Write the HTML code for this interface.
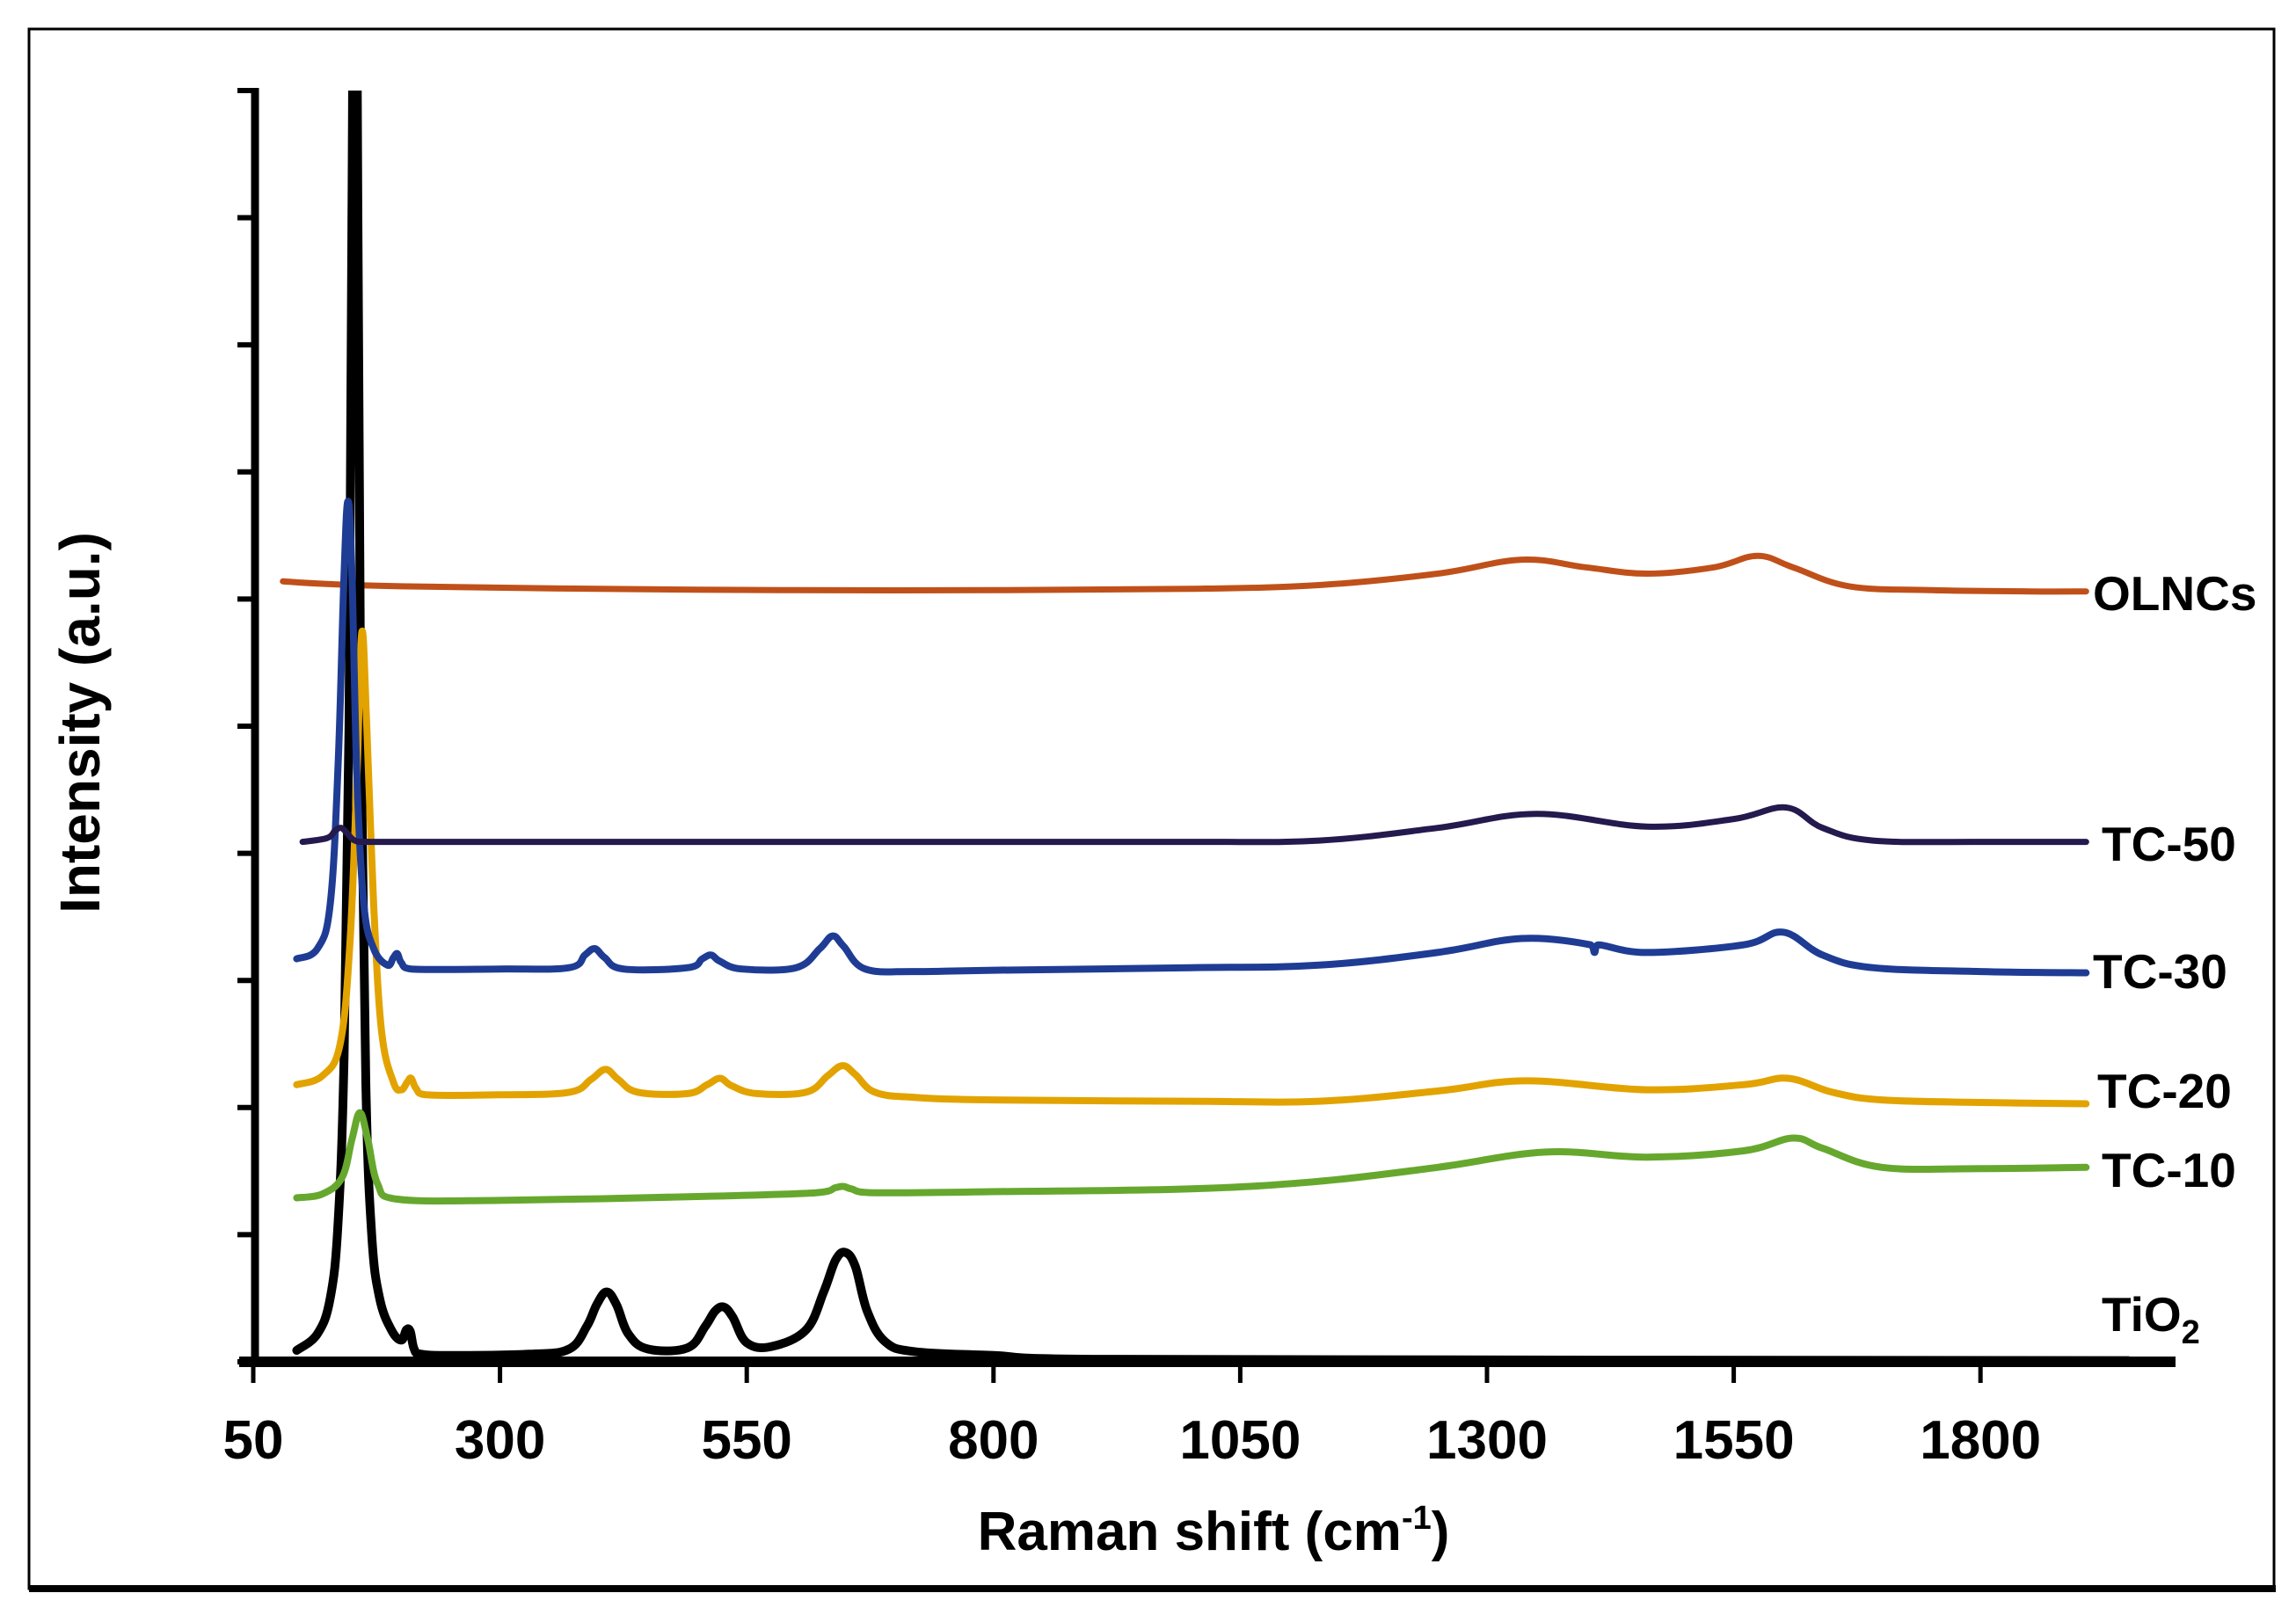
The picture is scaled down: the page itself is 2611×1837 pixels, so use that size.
<!DOCTYPE html>
<html><head><meta charset="utf-8"><style>
html,body{margin:0;padding:0;background:#fff;}
svg{display:block;}
text{font-family:"Liberation Sans",Arial,sans-serif;font-weight:bold;fill:#000;}
</style></head><body>
<svg id="chart" width="2611" height="1837" viewBox="0 0 2611 1837">
<rect x="33" y="33" width="2553" height="1774" fill="#fff" stroke="#000" stroke-width="3"/>
<line x1="33" y1="1807" x2="2588" y2="1807" stroke="#000" stroke-width="8"/>
<defs><clipPath id="plotclip"><rect x="290" y="103" width="2200" height="1446"/></clipPath></defs>
<g id="series" clip-path="url(#plotclip)"></g>
<g id="axes"></g>
<text x="1380" y="1763" font-size="62" text-anchor="middle">Raman shift (cm<tspan dy="-24" font-size="38">-1</tspan><tspan dy="24">)</tspan></text>
<text transform="translate(113,822) rotate(-90)" font-size="64" text-anchor="middle">Intensity (a.u.)</text>
<g id="labels"></g>
</svg>
<script>
// x-axis ticks
const xTicks = [50, 300, 550, 800, 1050, 1300, 1550, 1800];
const yTickCount = 10;
// series data (x: Raman shift cm-1, y: intensity a.u.)
const tio2X = [94,115,128,136,142,147,150,153,156,159,164,170,178,190,200,205,209,213,220,250,330,370,388,398,408,418,430,450,490,508,518,527,536,550,575,610,628,640,650,660,672,690,720,800,900,1950];
const tio2Y = [0.09,0.22,0.5,1.1,2.4,5,9,13,9,5,2.2,1.0,0.5,0.25,0.17,0.25,0.24,0.1,0.06,0.05,0.06,0.1,0.28,0.45,0.55,0.45,0.22,0.1,0.11,0.28,0.4,0.43,0.35,0.15,0.12,0.25,0.55,0.8,0.86,0.75,0.4,0.16,0.08,0.05,0.02,0.01];
const tc10X = [94,120,140,150,158,166,176,195,300,500,620,640,648,656,680,820,1000,1130,1250,1360,1462,1560,1610,1640,1700,1800,1907];
const tc10Y = [1.29,1.32,1.45,1.75,1.96,1.75,1.4,1.28,1.27,1.3,1.33,1.37,1.38,1.36,1.33,1.34,1.36,1.42,1.53,1.65,1.61,1.66,1.76,1.68,1.53,1.52,1.53];
const tc20X = [94,120,138,148,155,160,165,172,180,192,200,206,210,215,225,300,370,392,407,420,440,490,510,523,535,560,610,632,647,660,680,720,800,1000,1130,1250,1340,1462,1560,1605,1650,1700,1800,1907];
const tc20Y = [2.18,2.25,2.5,3.3,4.6,5.74,5.0,3.6,2.6,2.2,2.14,2.2,2.23,2.15,2.1,2.1,2.12,2.22,2.3,2.22,2.12,2.11,2.18,2.23,2.17,2.11,2.12,2.25,2.33,2.26,2.12,2.08,2.06,2.05,2.05,2.13,2.21,2.14,2.18,2.23,2.12,2.06,2.04,2.03];
const tc30X = [94,115,128,136,142,146,150,155,162,172,186,192,196,200,210,300,370,386,396,406,425,490,505,514,523,545,600,624,637,648,670,720,800,1000,1130,1250,1335,1405,1409,1413,1462,1560,1600,1640,1691,1800,1907];
const tc30Y = [3.17,3.25,3.6,4.7,6.2,6.77,6.2,4.6,3.6,3.25,3.12,3.18,3.21,3.14,3.09,3.09,3.1,3.2,3.25,3.18,3.09,3.1,3.17,3.2,3.15,3.09,3.1,3.25,3.35,3.27,3.09,3.07,3.08,3.1,3.12,3.22,3.33,3.28,3.22,3.28,3.22,3.28,3.38,3.2,3.1,3.07,3.06];
const tc50X = [100,125,133,139,145,153,170,400,800,1000,1130,1250,1350,1462,1550,1603,1640,1691,1800,1907];
const tc50Y = [4.09,4.12,4.18,4.2,4.16,4.1,4.09,4.09,4.09,4.09,4.1,4.2,4.31,4.21,4.27,4.36,4.2,4.1,4.09,4.09];
const olncX = [80,120,200,400,600,800,1000,1130,1250,1335,1400,1462,1530,1574,1610,1667,1750,1850,1907];
const olncY = [6.14,6.12,6.1,6.08,6.07,6.07,6.08,6.11,6.2,6.31,6.25,6.2,6.25,6.34,6.25,6.1,6.07,6.06,6.06];
const seriesNames = ['tio2','tc-10','tc-20','tc-30','tc-50','olncs'];
const seriesLabels = ['TiO2','TC-10','TC-20','TC-30','TC-50','OLNCs'];

const NS = 'http://www.w3.org/2000/svg';
const X0 = 288, XPER = 280.6/250, Y0 = 1549, YPER = 144.6;
function xs(d){ return X0 + (d-50)*XPER; }
function ys(v){ return Y0 - v*YPER; }

const axes = document.getElementById('axes');
function line(x1,y1,x2,y2,w,name){
  const l = document.createElementNS(NS,'line');
  l.setAttribute('x1',x1);l.setAttribute('y1',y1);l.setAttribute('x2',x2);l.setAttribute('y2',y2);
  l.setAttribute('stroke','#000');l.setAttribute('stroke-width',w);
  
  
  axes.appendChild(l);
}
line(290,100,290,1555,9,'y-axis-line');
line(272,1549,2474,1549,12,'x-axis-line');
for(let i=0;i<=yTickCount;i++){
  const y = ys(i);
  line(270,y,292,y,6,'y-tick');
}
xTicks.forEach(t=>{
  const x = xs(t);
  line(x,1549,x,1573,5,'x-tick');
  const tx = document.createElementNS(NS,'text');
  tx.setAttribute('x',x);tx.setAttribute('y',1659);
  tx.setAttribute('font-size','62');tx.setAttribute('text-anchor','middle');
  
  
  tx.textContent = t;
  axes.appendChild(tx);
});

const sg = document.getElementById('series');
function draw(X,Y,color,w,name){
  const P = X.map((x,i)=>[xs(x),ys(Y[i])]);
  let d = 'M'+P[0][0].toFixed(1)+','+P[0][1].toFixed(1);
  for(let i=0;i<P.length-1;i++){
    const p0=P[Math.max(0,i-1)], p1=P[i], p2=P[i+1], p3=P[Math.min(P.length-1,i+2)];
    const t=0.18;
    let c1x=p1[0]+(p2[0]-p0[0])*t, c1y=p1[1]+(p2[1]-p0[1])*t;
    let c2x=p2[0]-(p3[0]-p1[0])*t, c2y=p2[1]-(p3[1]-p1[1])*t;
    c1x=Math.min(Math.max(c1x,p1[0]),p2[0]); c2x=Math.min(Math.max(c2x,p1[0]),p2[0]);
    d += 'C'+c1x.toFixed(1)+','+c1y.toFixed(1)+' '+c2x.toFixed(1)+','+c2y.toFixed(1)+' '+p2[0].toFixed(1)+','+p2[1].toFixed(1);
  }
  const p = document.createElementNS(NS,'path');
  p.setAttribute('d',d);p.setAttribute('fill','none');p.setAttribute('stroke',color);
  p.setAttribute('stroke-width',w);p.setAttribute('stroke-linejoin','round');p.setAttribute('stroke-linecap','round');
  
  
  sg.appendChild(p);
}
draw(olncX,olncY,'#c0501a',7,'series-olncs');
draw(tio2X,tio2Y,'#000',10,'series-tio2');
draw(tc10X,tc10Y,'#66a82e',8,'series-tc-10');
draw(tc20X,tc20Y,'#e2a300',8,'series-tc-20');
draw(tc30X,tc30Y,'#1f3c94',8,'series-tc-30');
draw(tc50X,tc50Y,'#241a4e',7,'series-tc-50');

const lg = document.getElementById('labels');
const lblX = [2390,2390,2385,2380,2390,2380];
const lblY = [1514,1350,1260,1124,979,694];
seriesLabels.forEach((s,i)=>{
  const t = document.createElementNS(NS,'text');
  t.setAttribute('x',lblX[i]);t.setAttribute('y',lblY[i]);t.setAttribute('font-size','55');
  
  
  if(s==='TiO2'){ t.innerHTML = 'TiO<tspan dy="14" font-size="38">2</tspan>'; }
  else t.textContent = s;
  lg.appendChild(t);
});
</script>
</body></html>
